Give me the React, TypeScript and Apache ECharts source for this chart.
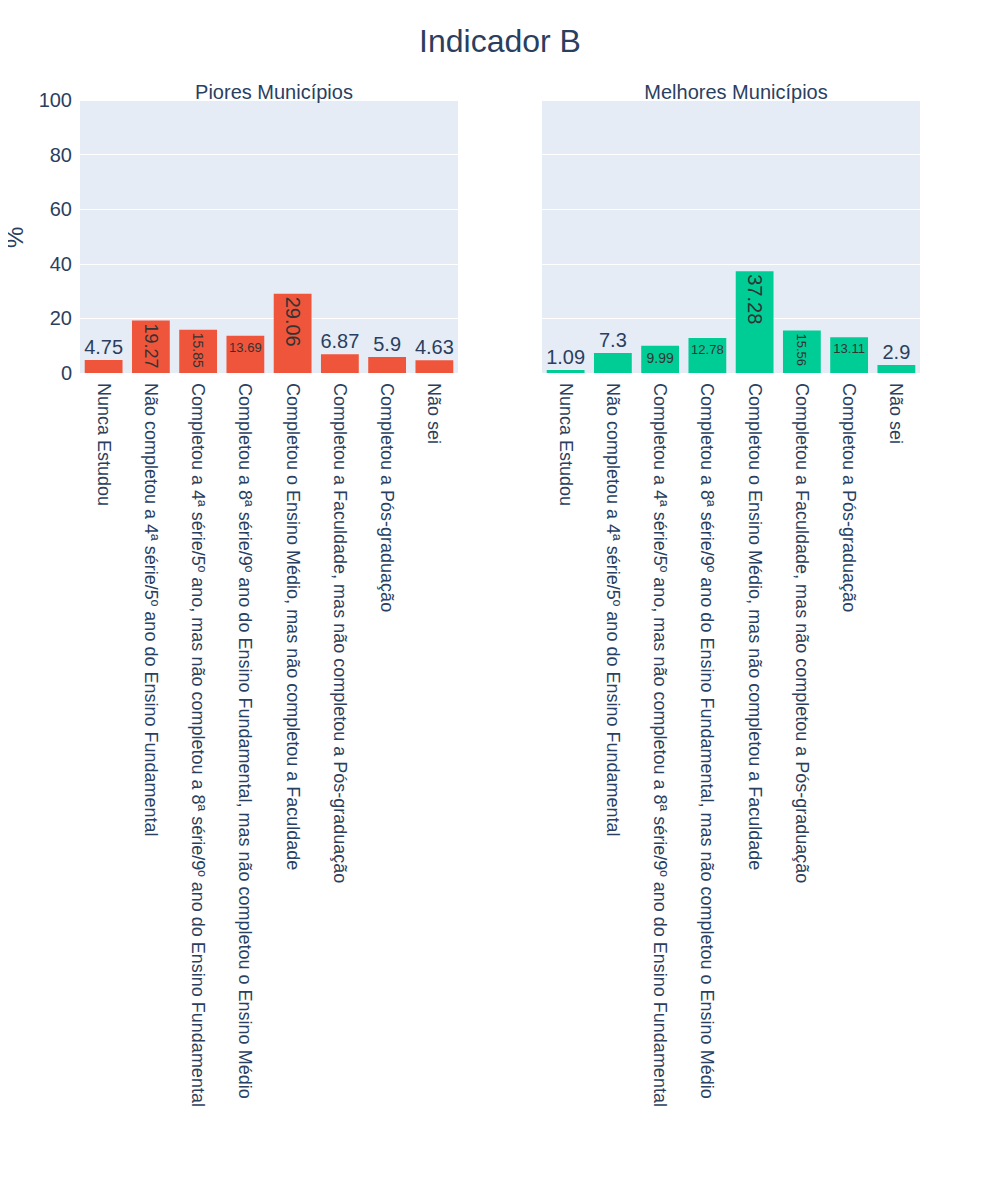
import React, { useEffect, useRef } from "react";
import * as echarts from "echarts";

const categories = [
  "Nunca Estudou",
  "Não completou a 4ª série/5º ano do Ensino Fundamental",
  "Completou a 4ª série/5º ano, mas não completou a 8ª série/9º ano do Ensino Fundamental",
  "Completou a 8ª série/9º ano do Ensino Fundamental, mas não completou o Ensino Médio",
  "Completou o Ensino Médio, mas não completou a Faculdade",
  "Completou a Faculdade, mas não completou a Pós-graduação",
  "Completou a Pós-graduação",
  "Não sei",
];
const piores = [4.75, 19.27, 15.85, 13.69, 29.06, 6.87, 5.9, 4.63];
const melhores = [1.09, 7.3, 9.99, 12.78, 37.28, 15.56, 13.11, 2.9];
// label mode per bar: o = outside, r = rotated inside, h = horizontal inside; with font size
const pioresLabel: [string, number][] = [["o", 20], ["r", 18], ["r", 14], ["h", 13], ["r", 20], ["o", 20], ["o", 20], ["o", 20]];
const melhoresLabel: [string, number][] = [["o", 20], ["o", 20], ["h", 14], ["h", 13], ["r", 20], ["r", 13], ["h", 13], ["o", 20]];

const TXT = "#2a3f5f";
const FONT = "'Liberation Sans', Arial, sans-serif";

const buildData = (vals: number[], modes: [string, number][]) =>
  vals.map((v, i) => {
    const [m, s] = modes[i];
    let label: any;
    if (m === "o") label = { show: true, position: "top", fontSize: s, color: TXT, distance: 3 };
    else if (m === "r")
      label = { show: true, position: "insideTop", rotate: -90, align: "left", verticalAlign: "middle", fontSize: s, color: "#333", distance: 3 };
    else label = { show: true, position: "insideTop", fontSize: s, color: "#333", distance: 5 };
    return { value: v, label };
  });

const App = () => {
  const ref = useRef<HTMLDivElement>(null);
  useEffect(() => {
    const chart = echarts.init(ref.current!, null, { renderer: "svg" });
    const xAxis = (gi: number) => ({
      type: "category",
      gridIndex: gi,
      data: categories,
      axisLine: { show: false },
      axisTick: { show: false },
      axisLabel: { rotate: -90, fontSize: 18, color: TXT, interval: 0, margin: 10, fontFamily: FONT },
    });
    const yAxis = (gi: number, show: boolean) => ({
      type: "value",
      gridIndex: gi,
      min: 0,
      max: 100,
      interval: 20,
      axisLabel: { show, fontSize: 20, color: TXT, margin: 8, fontFamily: FONT },
      splitLine: { lineStyle: { color: "#fff", width: 1 } },
      axisLine: { show: false },
      axisTick: { show: false },
    });
    chart.setOption({
      animation: false,
      textStyle: { fontFamily: FONT },
      title: [
        { text: "Indicador B", left: "center", top: 20, textStyle: { fontSize: 32, fontWeight: "normal", color: TXT, fontFamily: FONT } },
        { text: "Piores Municípios", left: 269, top: 77, textAlign: "center", textStyle: { fontSize: 20, fontWeight: "normal", color: TXT, fontFamily: FONT } },
        { text: "Melhores Municípios", left: 731, top: 77, textAlign: "center", textStyle: { fontSize: 20, fontWeight: "normal", color: TXT, fontFamily: FONT } },
      ],
      graphic: [
        { type: "text", x: 2, y: 248, rotation: Math.PI / 2, style: { text: "%", fontSize: 24, fill: TXT, fontFamily: FONT } },
      ],
      grid: [
        { left: 80, top: 100, width: 378, height: 273, show: true, backgroundColor: "#e5ecf6", borderWidth: 0 },
        { left: 542, top: 100, width: 378, height: 273, show: true, backgroundColor: "#e5ecf6", borderWidth: 0 },
      ],
      xAxis: [xAxis(0), xAxis(1)],
      yAxis: [yAxis(0, true), yAxis(1, false)],
      series: [
        { type: "bar", xAxisIndex: 0, yAxisIndex: 0, barWidth: "80%", itemStyle: { color: "#ef553b" }, data: buildData(piores, pioresLabel) },
        { type: "bar", xAxisIndex: 1, yAxisIndex: 1, barWidth: "80%", itemStyle: { color: "#00cc96" }, data: buildData(melhores, melhoresLabel) },
      ],
    });
    return () => chart.dispose();
  }, []);
  return <div ref={ref} style={{ width: 1000, height: 1200, margin: -8 }} />;
};

export default App;
